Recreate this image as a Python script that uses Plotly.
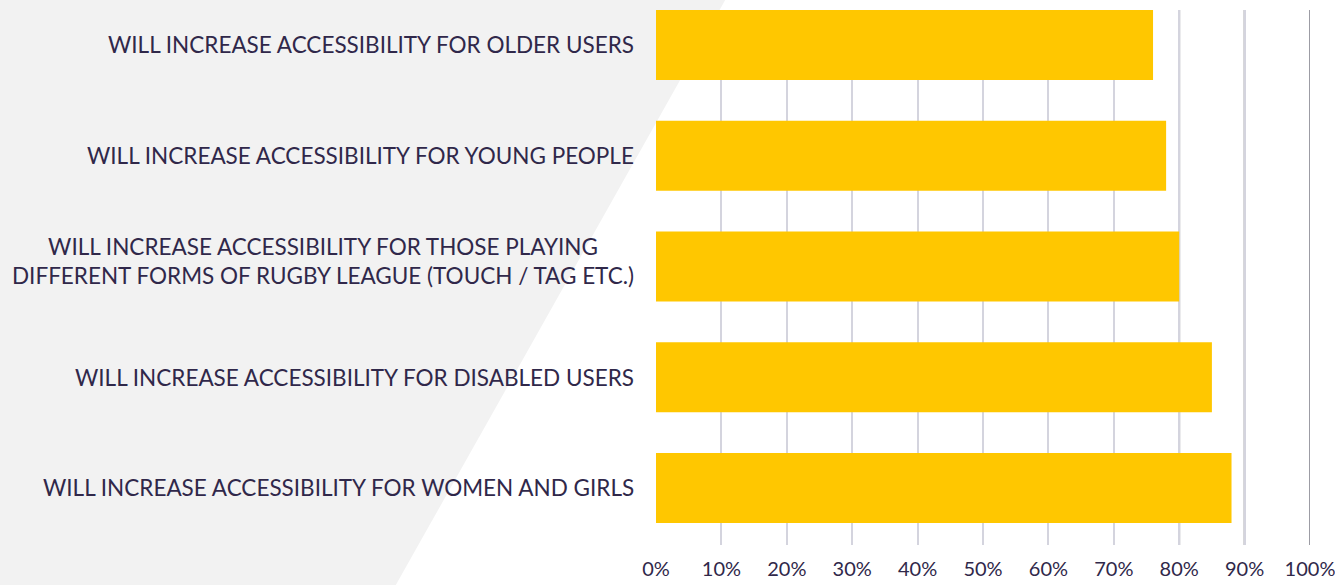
import plotly.graph_objects as go

# Data (bottom to top order)
categories = [
    "WILL INCREASE ACCESSIBILITY FOR WOMEN AND GIRLS",
    "WILL INCREASE ACCESSIBILITY FOR DISABLED USERS",
    "WILL INCREASE ACCESSIBILITY FOR THOSE PLAYING<br>DIFFERENT FORMS OF RUGBY LEAGUE (TOUCH / TAG ETC.)",
    "WILL INCREASE ACCESSIBILITY FOR YOUNG PEOPLE",
    "WILL INCREASE ACCESSIBILITY FOR OLDER USERS",
]
values = [0.88, 0.85, 0.80, 0.78, 0.76]
tick_vals = [0, 0.1, 0.2, 0.3, 0.4, 0.5, 0.6, 0.7, 0.8, 0.9, 1.0]
tick_text = ["0%", "10%", "20%", "30%", "40%", "50%", "60%", "70%", "80%", "90%", "100%"]
dark_grid = [0.8, 0.9, 1.0]

W, H = 1335, 585
L, R, T, B = 656, 25, 10, 40
pw, ph = W - L - R, H - T - B

def px2paper(x, y):
    return (x - L) / pw, (H - B - y) / ph

FONT = "Lato, sans-serif"
TEXT_COLOR = "#30284a"

fig = go.Figure()
fig.add_trace(go.Bar(
    x=values, y=categories, orientation="h",
    marker=dict(color="#FFC700", line=dict(width=0)),
    hoverinfo="x+y",
))

shapes = []
# gray diagonal background
pts = [px2paper(-5, -5), px2paper(728, -5), px2paper(393, H + 5), px2paper(-5, H + 5)]
path = "M " + " L ".join(f"{x:.5f},{y:.5f}" for x, y in pts) + " Z"
shapes.append(dict(type="path", path=path, xref="paper", yref="paper",
                   fillcolor="#F2F2F2", line=dict(width=0), layer="below"))
for gv in dark_grid:
    shapes.append(dict(type="line", x0=gv, x1=gv, y0=0, y1=1, xref="x", yref="paper",
                       line=dict(color="#9C9CA4", width=2), layer="between"))

annotations = []
for c in categories:
    multi = "<br>" in c
    annotations.append(dict(x=-0.031, xref="paper", y=c, yref="y", text=c,
                            showarrow=False, xanchor="right", yanchor="middle",
                            align="center", yshift=5 if multi else 0,
                            font=dict(family=FONT, size=22.5, color=TEXT_COLOR)))

fig.update_layout(
    width=W, height=H,
    margin=dict(l=L, r=R, t=T, b=B, pad=0, autoexpand=False),
    paper_bgcolor="white", plot_bgcolor="rgba(0,0,0,0)",
    showlegend=False, bargap=0.368,
    shapes=shapes, annotations=annotations,
    xaxis=dict(range=[0, 1.0], tickvals=tick_vals, ticktext=tick_text,
               showgrid=True, gridcolor="#D4D4DE", gridwidth=2,
               zeroline=False, showline=False, ticks="", automargin=False,
               ticklabelstandoff=10, ticklabeloverflow="allow",
               tickfont=dict(family=FONT, size=20, color=TEXT_COLOR)),
    yaxis=dict(range=[-0.515, 4.316], showticklabels=False, showgrid=False,
               zeroline=False, showline=False, ticks="", automargin=False),
)
fig.write_html("out.html", config={"displayModeBar": False},
               post_script="document.body.style.margin='0px';document.body.style.overflow='hidden';")
